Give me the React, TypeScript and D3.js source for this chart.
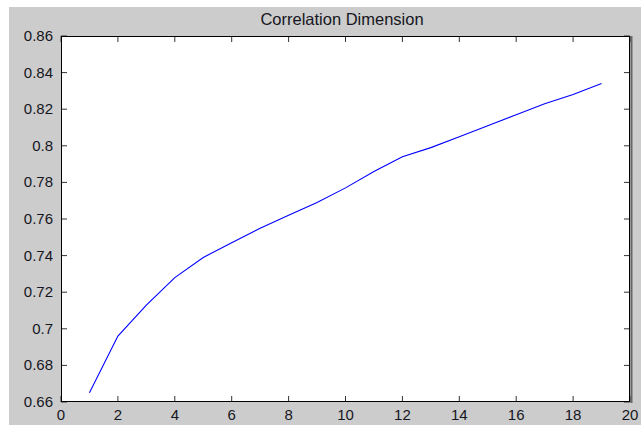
import React from "react";
import * as d3 from "d3";

const xValues = [1, 2, 3, 4, 5, 6, 7, 8, 9, 10, 11, 12, 13, 14, 15, 16, 17, 18, 19];
const corrDim = [0.665, 0.696, 0.713, 0.728, 0.739, 0.747, 0.755, 0.762, 0.769, 0.777, 0.786, 0.794, 0.799, 0.805, 0.811, 0.817, 0.823, 0.828, 0.834];
const xTicks = [0, 2, 4, 6, 8, 10, 12, 14, 16, 18, 20];
const yTicks = [0.66, 0.68, 0.7, 0.72, 0.74, 0.76, 0.78, 0.8, 0.82, 0.84, 0.86];
const title = "Correlation Dimension";

const W = 641;
const H = 425;
const left = 61;
const right = 630;
const top = 36;
const bottom = 402;

export default function App() {
  const x = d3.scaleLinear().domain([0, 20]).range([left, right]);
  const y = d3.scaleLinear().domain([0.66, 0.86]).range([bottom, top]);
  const line = d3
    .line<number>()
    .x((_, i) => x(xValues[i]))
    .y((d) => y(d));
  const font = "'Liberation Sans', Arial, sans-serif";
  const tl = 6;
  const fmtY = (v: number) => String(+v.toFixed(2));
  return (
    <div style={{ position: "absolute", left: 0, top: 0 }}>
      <svg width={W} height={H} style={{ display: "block" }}>
        <rect x={0} y={0} width={W} height={H} fill="#ffffff" />
        <rect x={9} y={7} width={W - 9} height={H - 7} fill="#cccccc" />
        <rect x={left} y={top} width={right - left} height={bottom - top} fill="#ffffff" />
        <line x1={right + 1.5} x2={right + 1.5} y1={top} y2={bottom + 1} stroke="#666" strokeWidth={2} />
        {xTicks.map((t) => (
          <g key={"x" + t}>
            <line x1={x(t)} x2={x(t)} y1={bottom} y2={bottom - tl} stroke="#333" />
            <line x1={x(t)} x2={x(t)} y1={top} y2={top + tl} stroke="#333" />
            <text
              x={x(t)}
              y={420}
              textAnchor="middle"
              fontFamily={font}
              fontSize={15}
              fill="#161622"
            >
              {t}
            </text>
          </g>
        ))}
        {yTicks.map((t) => (
          <g key={"y" + t}>
            <line x1={left} x2={left + tl} y1={y(t)} y2={y(t)} stroke="#333" />
            <line x1={right} x2={right - tl} y1={y(t)} y2={y(t)} stroke="#333" />
            <text
              x={53}
              y={y(t) + 5}
              textAnchor="end"
              fontFamily={font}
              fontSize={15}
              fill="#161622"
            >
              {fmtY(t)}
            </text>
          </g>
        ))}
        <rect
          x={left + 0.5}
          y={top + 0.5}
          width={right - left - 1}
          height={bottom - top - 1}
          fill="none"
          stroke="#000"
          strokeWidth={1}
        />
        <path d={line(corrDim) || ""} fill="none" stroke="#0000ff" strokeWidth={1.1} />
        <text
          x={342}
          y={25}
          textAnchor="middle"
          fontFamily={font}
          fontSize={16.5}
          fill="#161622"
        >
          {title}
        </text>
      </svg>
    </div>
  );
}
